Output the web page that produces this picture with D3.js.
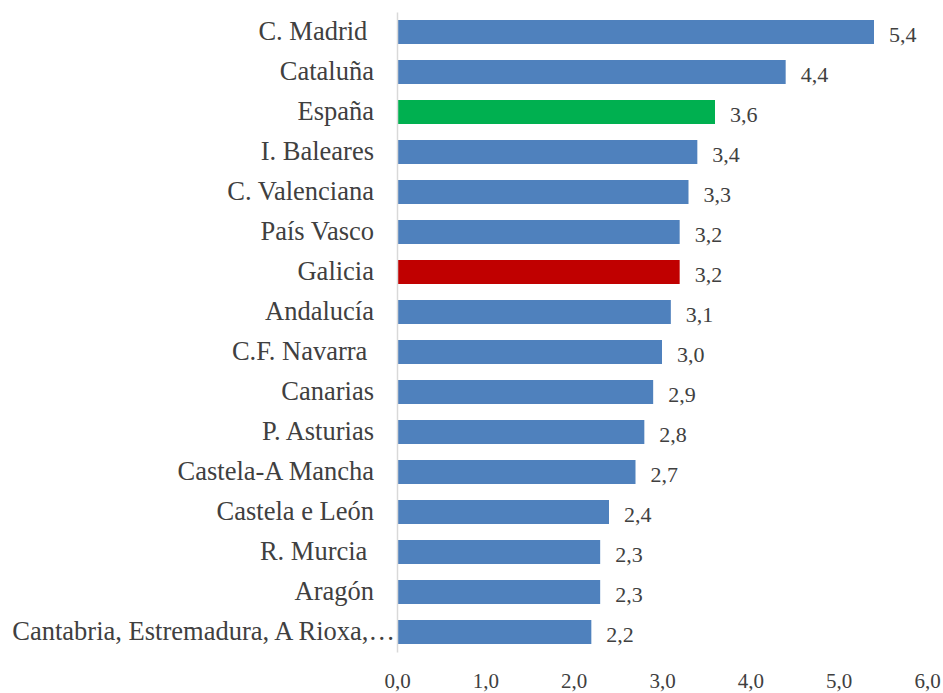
<!DOCTYPE html>
<html>
<head>
<meta charset="utf-8">
<script src="https://cdn.jsdelivr.net/npm/d3@7"></script>
<style>
  body { margin: 0; background: #fff; }
  svg text { font-family: "Liberation Serif", "DejaVu Serif", serif; fill: #404040; }
  .y.axis text { white-space: pre; font-size: 26.5px; }
  .x.axis text { font-size: 21px; }
  .value-label { font-size: 22px; }
</style>
</head>
<body>
<div class="chart"></div>
<script>
// regions, top to bottom (trailing spaces kept as in the original labels)
const categories = [
  "C. Madrid ", "Cataluña", "España", "I. Baleares", "C. Valenciana", "País Vasco",
  "Galicia", "Andalucía", "C.F. Navarra ", "Canarias", "P. Asturias",
  "Castela-A Mancha", "Castela e León", "R. Murcia ", "Aragón",
  "Cantabria, Estremadura, A Rioxa,…"
];
const values = [5.4, 4.4, 3.6, 3.4, 3.3, 3.2, 3.2, 3.1, 3.0, 2.9, 2.8, 2.7, 2.4, 2.3, 2.3, 2.2];
const xTickValues = [0, 1, 2, 3, 4, 5, 6];

const highlight = { "España": "#00B050", "Galicia": "#C00000" };
const baseColor = "#4F81BD";

const width = 943, height = 693;
const marginLeft = 397, marginRight = 16;

const data = categories.map((c, i) => ({ key: c, value: values[i] }));

const locale = d3.formatLocale({ decimal: ",", thousands: ".", grouping: [3], currency: ["", "€"] });
const fmt = locale.format(".1f");

const svg = d3.select(".chart").append("svg")
  .attr("width", width)
  .attr("height", height);

const x = d3.scaleLinear().domain([0, 6]).range([marginLeft, width - marginRight]);
const y = d3.scaleBand().domain(categories).range([12, 652]).paddingInner(0.4).paddingOuter(0.2);

// bars
svg.append("g").selectAll("rect")
  .data(data)
  .join("rect")
  .attr("x", x(0))
  .attr("y", d => y(d.key))
  .attr("width", d => x(d.value) - x(0))
  .attr("height", y.bandwidth())
  .attr("fill", d => highlight[d.key] || baseColor);

// value labels
svg.append("g").selectAll("text")
  .data(data)
  .join("text")
  .attr("class", "value-label")
  .attr("x", d => x(d.value) + 15)
  .attr("y", d => y(d.key) + y.bandwidth() / 2 + 2)
  .attr("dy", "0.35em")
  .text(d => fmt(d.value));

// y axis (category labels + vertical line)
const yAxis = svg.append("g")
  .attr("class", "y axis")
  .attr("transform", `translate(${x(0)},0)`)
  .call(d3.axisLeft(y).tickSize(0).tickPadding(23));
yAxis.attr("font-family", null).attr("font-size", null);
yAxis.select(".domain").attr("stroke", "#d9d9d9").attr("stroke-width", 1.5);
// truncated label runs right up to the axis line, like the original
yAxis.selectAll(".tick text")
  .filter(d => d.endsWith("…"))
  .attr("x", -2);

// x axis (tick labels only)
const xAxis = svg.append("g")
  .attr("class", "x axis")
  .attr("transform", "translate(0,673)")
  .call(d3.axisBottom(x).tickValues(xTickValues).tickFormat(fmt).tickSize(0).tickPadding(0));
xAxis.attr("font-family", null).attr("font-size", null);
xAxis.select(".domain").remove();
</script>
</body>
</html>
